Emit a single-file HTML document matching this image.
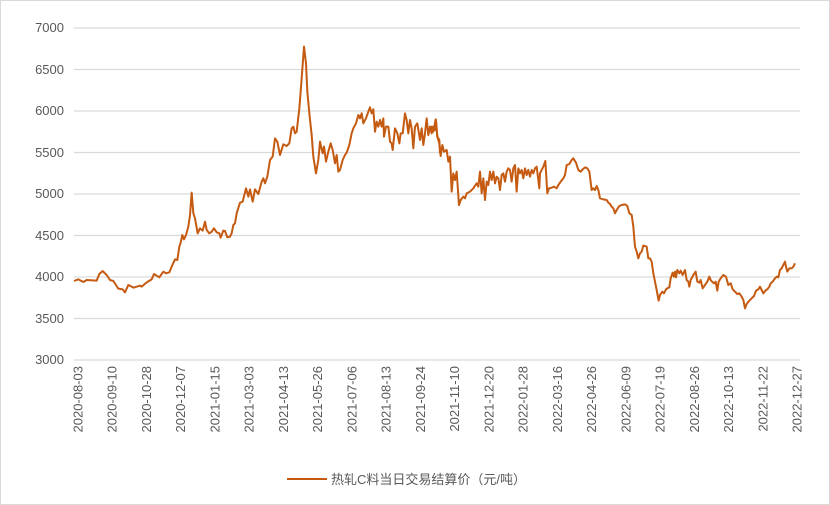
<!DOCTYPE html>
<html><head><meta charset="utf-8"><style>
html,body{margin:0;padding:0;background:#fff}
svg{display:block}
text{font-family:"Liberation Sans","Noto Sans CJK SC",sans-serif;fill:#595959;font-size:13px}
</style></head><body>
<svg width="830" height="505" xmlns="http://www.w3.org/2000/svg">
<rect x="0.5" y="0.5" width="829" height="504" fill="#fff" stroke="#d9d9d9"/>
<g stroke="#d9d9d9" stroke-width="1.3">
<line x1="74" x2="800" y1="28" y2="28"/><line x1="74" x2="800" y1="69.5" y2="69.5"/>
<line x1="74" x2="800" y1="111" y2="111"/><line x1="74" x2="800" y1="152.5" y2="152.5"/>
<line x1="74" x2="800" y1="194" y2="194"/><line x1="74" x2="800" y1="235.5" y2="235.5"/>
<line x1="74" x2="800" y1="277" y2="277"/><line x1="74" x2="800" y1="318.5" y2="318.5"/>
<line x1="74" x2="800" y1="360" y2="360"/>
</g>
<g text-anchor="end">
<text x="64" y="32">7000</text><text x="64" y="74">6500</text><text x="64" y="115">6000</text>
<text x="64" y="157">5500</text><text x="64" y="198">5000</text><text x="64" y="240">4500</text>
<text x="64" y="281">4000</text><text x="64" y="323">3500</text><text x="64" y="364">3000</text>
</g>
<g text-anchor="end">
<text transform="translate(82.5,366) rotate(-90)">2020-08-03</text>
<text transform="translate(116.7,366) rotate(-90)">2020-09-10</text>
<text transform="translate(151,366) rotate(-90)">2020-10-28</text>
<text transform="translate(185.2,366) rotate(-90)">2020-12-07</text>
<text transform="translate(219.5,366) rotate(-90)">2021-01-15</text>
<text transform="translate(253.7,366) rotate(-90)">2021-03-03</text>
<text transform="translate(287.9,366) rotate(-90)">2021-04-13</text>
<text transform="translate(322.2,366) rotate(-90)">2021-05-26</text>
<text transform="translate(356.4,366) rotate(-90)">2021-07-06</text>
<text transform="translate(390.7,366) rotate(-90)">2021-08-13</text>
<text transform="translate(424.9,366) rotate(-90)">2021-09-24</text>
<text transform="translate(459.1,366) rotate(-90)">2021-11-10</text>
<text transform="translate(493.4,366) rotate(-90)">2021-12-20</text>
<text transform="translate(527.6,366) rotate(-90)">2022-01-28</text>
<text transform="translate(561.9,366) rotate(-90)">2022-03-16</text>
<text transform="translate(596.1,366) rotate(-90)">2022-04-26</text>
<text transform="translate(630.3,366) rotate(-90)">2022-06-09</text>
<text transform="translate(664.6,366) rotate(-90)">2022-07-19</text>
<text transform="translate(698.8,366) rotate(-90)">2022-08-26</text>
<text transform="translate(733.1,366) rotate(-90)">2022-10-13</text>
<text transform="translate(767.3,366) rotate(-90)">2022-11-22</text>
<text transform="translate(801.5,366) rotate(-90)">2022-12-27</text>
</g>
<g fill="none" stroke="#c55a11" stroke-width="2" stroke-linejoin="round">
<polyline vector-effect="non-scaling-stroke" transform="translate(60,20) scale(0.33333)" points="42,783 55,778 70,786 80,780 110,782 118,762 128,753 140,765 150,780 160,783 168,795 175,806 188,808 195,817 205,795 215,800 220,803 240,797 245,800 260,787 275,778 282,762 298,772 310,755 318,760 328,757 335,740 345,718 352,720 358,680 362,668 367,645 372,658 378,645 385,620 390,585 395,518 400,580 405,595 413,640 420,625 428,632 435,605 440,630 448,640 455,635 462,625 470,637 478,640 482,653 490,632 495,633 502,652 510,650 515,640 520,615 525,610 530,580 540,548 548,545 558,505 565,530 570,508 578,545 585,508 595,522 605,485 610,475 615,490 622,470 630,420 638,410 645,355 652,365 660,405 670,373 680,378 688,370 695,325 700,320 705,340 710,335 718,265 722,215 732,80 738,130 742,215 748,280 755,345 760,410 768,460 775,420 780,365 788,400 792,380 798,425 805,395 812,370 818,390 825,430 830,405 835,455 840,450 848,420 855,405 860,398 868,375 875,340 880,325 888,310 895,285 900,295 905,280 910,310 918,295 925,275 930,262 935,280 940,268 945,335 950,305 955,320 960,300 965,320 970,295 972,350 978,320 985,320 990,365 995,370 998,390 1005,325 1012,340 1018,370 1022,340 1028,340 1035,280 1040,300 1045,340 1050,300 1055,325 1060,385 1065,320 1072,310 1080,360 1085,325 1090,375 1095,340 1100,295 1105,345 1110,320 1115,340 1120,320 1125,330 1128,300 1132,350 1138,360 1140,400"/>
<polyline vector-effect="non-scaling-stroke" transform="translate(430,90) scale(0.33333)" points="0,115 5,110 10,125 17,88 22,140 28,160 32,198 37,165 42,185 50,180 55,215 60,200 65,305 70,250 75,270 80,245 87,345 92,330 100,320 105,325 110,310 120,305 130,295 140,280 145,290 150,245 155,310 160,265 165,330 170,275 175,285 180,245 185,270 190,245 195,280 200,260 205,265 210,300 215,255 220,250 225,275 230,245 235,235 240,240 245,275 250,235 255,225 260,305 265,235 270,250 275,240 280,265 285,235 290,255 295,240 300,260 305,240 310,250 315,235 320,230 328,295 330,250 340,230 346,213 352,310 357,295 365,293 372,290 380,295 385,285 392,275 400,265 405,255 410,225 418,222 425,210 430,205 438,218 445,240 452,245 458,238 465,232 472,235 478,245 485,300 490,295 495,300 500,288 505,300 510,325 520,328 530,330 535,338 540,342 545,350 550,355 555,370 560,360 568,348 575,345 585,343 592,348 598,370 605,375 610,410 615,470 620,485 625,505 630,490 635,485 640,467 645,468 650,470 655,505 660,505 665,515 670,550 675,575 680,600 686,632 690,615 697,605 702,610 708,598 712,595 718,592 722,565 728,548 732,560 735,545 738,562 742,540 748,550 752,542 758,555 765,540 770,570 775,575 778,590 782,570 790,555 797,545 802,575 808,578 812,570 818,595 825,585 832,575 838,560 842,570 846,575 852,580 857,575 862,602 866,575 872,565 880,555 888,560 895,585 902,580 908,598 915,605 922,612 928,610 935,620 940,630 945,655 950,642 958,632 965,625 972,618 978,602 985,598 990,590 995,600 1000,610 1008,600 1012,598 1018,590 1022,580 1028,575 1035,565 1040,560 1045,562 1050,540 1055,535 1060,525 1065,515 1068,530 1072,545 1078,535 1085,535 1090,530 1095,520"/>
</g>
<line x1="287" x2="327" y1="479" y2="479" stroke="#c55a11" stroke-width="2"/>
<text x="331" y="484">热轧C料当日交易结算价（元/吨）</text>
</svg>
</body></html>
